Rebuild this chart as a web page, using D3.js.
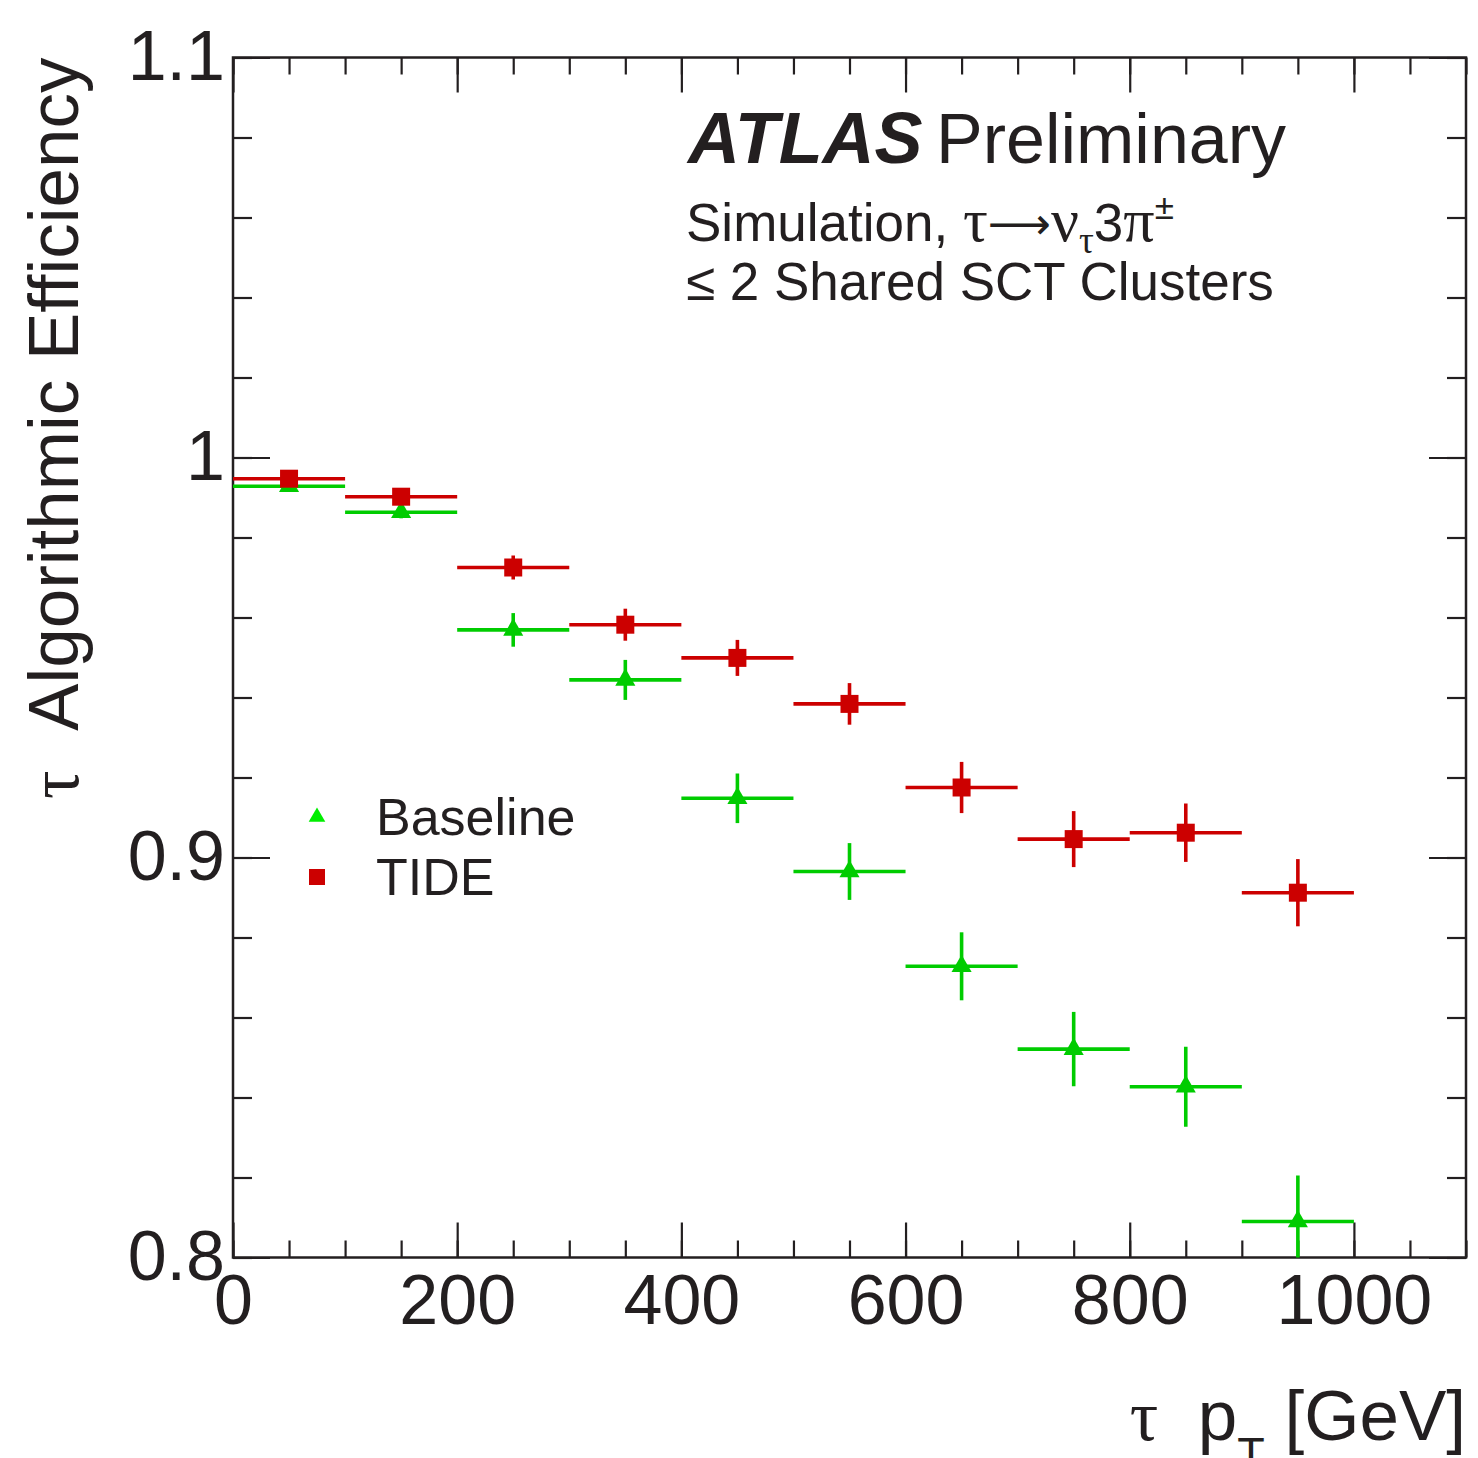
<!DOCTYPE html>
<meta charset="utf-8">
<script src="https://d3js.org/d3.v7.min.js"></script>
<style>
  body { margin: 0; background: #fff; }
  text { fill: #231f20; }
</style>
<div id="page"></div>
<script>

  // Data
  var binEdges = [0, 100, 200, 300, 400, 500, 600, 700, 800, 900, 1000];
  var baselineEff = [0.9928, 0.9863, 0.9569, 0.9444, 0.9148, 0.8965, 0.8728, 0.8521, 0.8427, 0.8090];
  var baselineErr = [0.0012, 0.0015, 0.0042, 0.0050, 0.0062, 0.0071, 0.0085, 0.0093, 0.0100, 0.0115];
  var tideEff = [0.9947, 0.9902, 0.9725, 0.9582, 0.9499, 0.9384, 0.9175, 0.9046, 0.9062, 0.8912];
  var tideErr = [0.0010, 0.0013, 0.0030, 0.0040, 0.0045, 0.0052, 0.0064, 0.0070, 0.0073, 0.0084];

  var xMajor = [0, 200, 400, 600, 800, 1000];
  var xMinor = d3.range(0, 1101, 50);
  var yMajor = [0.8, 0.9, 1.0, 1.1];
  var yLabels = ["0.8", "0.9", "1", "1.1"];
  var yMinor = d3.range(0.80, 1.1001, 0.02);

  var W = 1478, H = 1458;
  var pLeft = 233, pRight = 1466, pTop = 57.5, pBottom = 1257.5;

  var sans = "'Liberation Sans', Arial, Helvetica, sans-serif";
  var serif = "'Liberation Serif', 'DejaVu Serif', serif";
  var ink = "#231f20";

  var svg = d3.select("#page").append("svg")
    .attr("width", W)
    .attr("height", H)
    .style("font-family", sans);

  var x = d3.scaleLinear().domain([0, 1100]).range([pLeft, pRight]);
  var y = d3.scaleLinear().domain([0.8, 1.1]).range([pBottom, pTop]);

  // clip for the points
  svg.append("clipPath").attr("id", "plotclip")
    .append("rect")
    .attr("x", pLeft).attr("y", pTop)
    .attr("width", pRight - pLeft).attr("height", pBottom - pTop);

  // axes, ticks inward like ROOT
  function styleAxis(g) {
    g.select(".domain").remove();
    g.selectAll("line").attr("stroke", ink).attr("stroke-width", 2.2);
    g.selectAll("text").attr("font-size", 70).attr("font-family", sans).style("fill", ink);
  }

  svg.append("g").attr("transform", "translate(0," + pBottom + ")")
    .call(d3.axisBottom(x).tickValues(xMinor).tickSize(-17).tickFormat(""))
    .call(styleAxis);
  svg.append("g").attr("transform", "translate(0," + pBottom + ")")
    .call(d3.axisBottom(x).tickValues(xMajor).tickSize(-35).tickPadding(17).tickFormat(d3.format("d")))
    .call(styleAxis);
  svg.append("g").attr("transform", "translate(0," + pTop + ")")
    .call(d3.axisTop(x).tickValues(xMinor).tickSize(-17).tickFormat(""))
    .call(styleAxis);
  svg.append("g").attr("transform", "translate(0," + pTop + ")")
    .call(d3.axisTop(x).tickValues(xMajor).tickSize(-35).tickFormat(""))
    .call(styleAxis);

  svg.append("g").attr("transform", "translate(" + pLeft + ",0)")
    .call(d3.axisLeft(y).tickValues(yMinor).tickSize(-19).tickFormat(""))
    .call(styleAxis);
  svg.append("g").attr("transform", "translate(" + pLeft + ",0)")
    .call(d3.axisLeft(y).tickValues(yMajor).tickSize(-37).tickPadding(8)
      .tickFormat(function (d, i) { return yLabels[i]; }))
    .call(styleAxis);
  svg.append("g").attr("transform", "translate(" + pRight + ",0)")
    .call(d3.axisRight(y).tickValues(yMinor).tickSize(-19).tickFormat(""))
    .call(styleAxis);
  svg.append("g").attr("transform", "translate(" + pRight + ",0)")
    .call(d3.axisRight(y).tickValues(yMajor).tickSize(-37).tickFormat(""))
    .call(styleAxis);

  // frame
  svg.append("rect")
    .attr("x", pLeft).attr("y", pTop)
    .attr("width", pRight - pLeft).attr("height", pBottom - pTop)
    .attr("fill", "none").attr("stroke", ink).attr("stroke-width", 2.5);

  // series
  var series = [
    { name: "Baseline", eff: baselineEff, err: baselineErr, color: "#00cc00", legendColor: "#00ee00", symbol: d3.symbolTriangle, size: 175, legendSize: 120 },
    { name: "TIDE", eff: tideEff, err: tideErr, color: "#cc0000", legendColor: "#cc0000", symbol: d3.symbolSquare, size: 324, legendSize: 256 }
  ];

  var plot = svg.append("g").attr("clip-path", "url(#plotclip)");

  series.forEach(function (s) {
    var pts = s.eff.map(function (v, i) {
      return { lo: binEdges[i], hi: binEdges[i + 1], c: (binEdges[i] + binEdges[i + 1]) / 2, v: v, e: s.err[i] };
    });
    var g = plot.append("g");
    g.selectAll(".hbar").data(pts).enter().append("line")
      .attr("x1", function (d) { return x(d.lo); })
      .attr("x2", function (d) { return x(d.hi); })
      .attr("y1", function (d) { return y(d.v); })
      .attr("y2", function (d) { return y(d.v); })
      .attr("stroke", s.color).attr("stroke-width", 3.6);
    g.selectAll(".vbar").data(pts).enter().append("line")
      .attr("x1", function (d) { return x(d.c); })
      .attr("x2", function (d) { return x(d.c); })
      .attr("y1", function (d) { return y(d.v - d.e); })
      .attr("y2", function (d) { return y(d.v + d.e); })
      .attr("stroke", s.color).attr("stroke-width", 3.6);
    g.selectAll(".mark").data(pts).enter().append("path")
      .attr("d", d3.symbol().type(s.symbol).size(s.size))
      .attr("transform", function (d) { return "translate(" + x(d.c) + "," + y(d.v) + ")"; })
      .attr("fill", s.color);
  });

  // legend
  var legend = svg.append("g");
  series.forEach(function (s, i) {
    var ly = 817 + i * 60;
    legend.append("path")
      .attr("d", d3.symbol().type(s.symbol).size(s.legendSize))
      .attr("transform", "translate(317," + ly + ")")
      .attr("fill", s.legendColor);
    legend.append("text")
      .attr("x", 376).attr("y", ly + 18)
      .attr("font-size", 52)
      .text(s.name);
  });

  // ATLAS label
  svg.append("text").attr("x", 688).attr("y", 163).attr("font-size", 72)
    .attr("font-weight", "bold").attr("font-style", "italic").text("ATLAS");
  svg.append("text").attr("x", 936).attr("y", 163).attr("font-size", 70)
    .text("Preliminary");

  var l1 = svg.append("text").attr("x", 686).attr("y", 241).attr("font-size", 53)
    .attr("xml:space", "preserve");
  l1.append("tspan").text("Simulation, ");
  l1.append("tspan").attr("font-family", serif).attr("font-size", 62).text("\u03C4");
  l1.append("tspan").attr("font-family", "'DejaVu Sans'").attr("font-size", 44).attr("dy", -2).text("\u27F6");
  l1.append("tspan").attr("font-family", serif).attr("font-size", 62).attr("dy", 2).text("\u03BD");
  l1.append("tspan").attr("font-family", serif).attr("font-size", 37).attr("dy", 12).text("\u03C4");
  l1.append("tspan").attr("dy", -12).text("3");
  l1.append("tspan").attr("font-family", serif).attr("font-size", 62).text("\u03C0");
  l1.append("tspan").attr("font-size", 35).attr("dy", -22).text("\u00B1");

  svg.append("text").attr("x", 686).attr("y", 300).attr("font-size", 53)
    .text("\u2264 2 Shared SCT Clusters");

  // axis titles
  var yt = svg.append("text")
    .attr("transform", "translate(78," + pTop + ") rotate(-90)")
    .attr("text-anchor", "end")
    .attr("font-size", 71)
    .attr("xml:space", "preserve");
  yt.append("tspan").attr("font-family", serif).text("\u03C4");
  yt.append("tspan").text("  Algorithmic Efficiency");

  var xt = svg.append("text")
    .attr("x", pRight).attr("y", 1440)
    .attr("text-anchor", "end")
    .attr("font-size", 71)
    .attr("xml:space", "preserve");
  xt.append("tspan").attr("font-family", serif).text("\u03C4");
  xt.append("tspan").text("  p");
  xt.append("tspan").attr("font-size", 45).attr("dy", 29).text("T");
  xt.append("tspan").attr("dy", -29).text(" [GeV]");

</script>
